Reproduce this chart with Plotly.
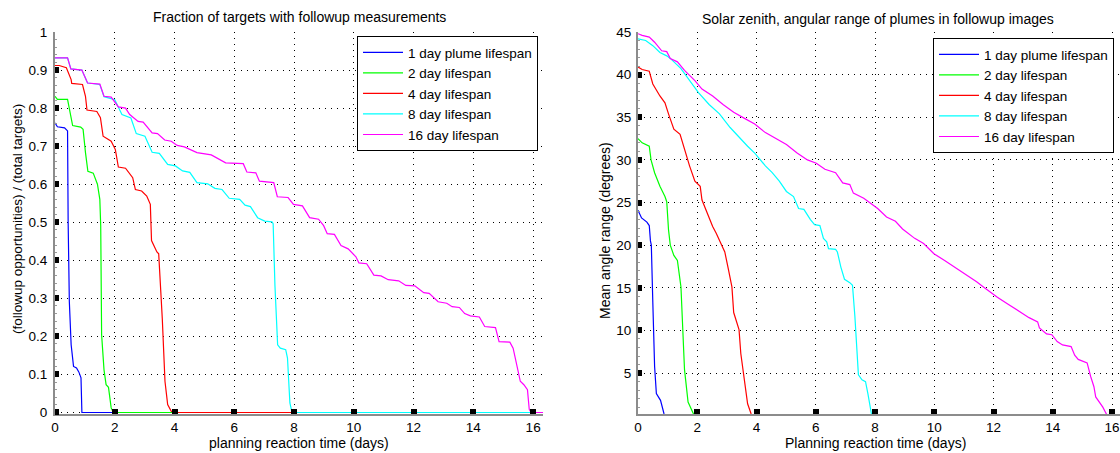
import plotly.graph_objects as go

# ---------------- data: left panel (fraction of targets) ----------------
labels = ["1 day plume lifespan", "2 day lifespan", "4 day lifespan",
          "8 day lifespan", "16 day lifespan"]
colors = ["#0000ff", "#00ff00", "#ff0000", "#00ffff", "#ff00ff"]

frac_t_1 = [0, 0.08, 0.32, 0.42, 0.44, 0.48, 0.54, 0.62, 0.72, 0.80, 0.87, 0.90, 16.33]
frac_v_1 = [0.761, 0.751, 0.748, 0.74, 0.50, 0.291, 0.178, 0.121, 0.117, 0.106, 0.091, 0, 0]

frac_t_2 = [0, 0.08, 0.42, 0.50, 0.59, 0.86, 0.94, 1.02, 1.10, 1.28, 1.42, 1.50, 1.53,
            1.56, 1.64, 1.71, 1.79, 1.88, 1.95, 16.33]
frac_v_2 = [0.831, 0.823, 0.823, 0.788, 0.754, 0.75, 0.744, 0.683, 0.634, 0.629, 0.60,
            0.56, 0.49, 0.204, 0.112, 0.073, 0.066, 0.012, 0, 0]

frac_t_4 = [0, 0.14, 0.38, 0.54, 0.56, 0.92, 1.02, 1.07, 1.40, 1.52, 1.61, 1.88, 2.02,
            2.12, 2.36, 2.60, 2.69, 2.90, 3.07, 3.19, 3.23, 3.41, 3.47, 3.59, 3.68,
            3.77, 3.89, 3.98, 16.33]
frac_v_4 = [0.912, 0.912, 0.906, 0.875, 0.865, 0.862, 0.831, 0.795, 0.791, 0.775,
            0.726, 0.713, 0.691, 0.645, 0.642, 0.617, 0.586, 0.582, 0.569, 0.547,
            0.452, 0.422, 0.417, 0.247, 0.082, 0.021, 0.003, 0, 0]

frac_t_8 = [0, 0.42, 0.53, 0.90, 1.09, 1.50, 1.64, 2.00, 2.24, 2.54, 2.72, 3.01, 3.25,
            3.49, 3.77, 4.03, 4.27, 4.51, 4.75, 5.11, 5.35, 5.59, 5.83, 6.18, 6.36,
            6.54, 6.78, 7.02, 7.26, 7.30, 7.36, 7.45, 7.54, 7.72, 7.78, 7.86, 7.93, 16.33]
frac_v_8 = [0.932, 0.932, 0.903, 0.90, 0.866, 0.862, 0.83, 0.822, 0.783, 0.774, 0.733,
            0.726, 0.684, 0.681, 0.652, 0.648, 0.635, 0.631, 0.604, 0.601, 0.589,
            0.586, 0.563, 0.56, 0.545, 0.541, 0.512, 0.503, 0.501, 0.496, 0.334,
            0.178, 0.169, 0.165, 0.143, 0.025, 0, 0]

frac_t_16 = [0, 0.42, 0.53, 0.90, 1.09, 1.50, 1.64, 1.88, 2.12, 2.36, 2.50, 2.78, 2.95,
             3.25, 3.43, 3.67, 3.89, 4.09, 4.33, 4.75, 5.23, 5.71, 6.30, 6.42, 6.72,
             6.84, 7.32, 7.44, 7.80, 7.98, 8.28, 8.52, 8.82, 8.99, 9.11, 9.35, 9.57,
             9.81, 10.07, 10.17, 10.43, 10.67, 10.91, 11.15, 11.50, 11.74, 12.04,
             12.34, 12.52, 12.82, 13.11, 13.29, 13.53, 13.71, 13.90, 14.20, 14.38,
             14.74, 14.86, 15.22, 15.33, 15.49, 15.57, 15.69, 15.81, 15.87, 15.93, 16.33]
frac_v_16 = [0.932, 0.932, 0.903, 0.90, 0.866, 0.863, 0.831, 0.829, 0.803, 0.80, 0.783,
             0.765, 0.763, 0.735, 0.733, 0.716, 0.713, 0.702, 0.698, 0.683, 0.677,
             0.656, 0.654, 0.632, 0.630, 0.608, 0.604, 0.567, 0.565, 0.547, 0.543,
             0.512, 0.508, 0.491, 0.47, 0.468, 0.439, 0.43, 0.409, 0.393, 0.391,
             0.361, 0.359, 0.349, 0.346, 0.334, 0.333, 0.315, 0.313, 0.291, 0.287,
             0.278, 0.276, 0.26, 0.254, 0.251, 0.226, 0.223, 0.186, 0.185, 0.169,
             0.108, 0.082, 0.073, 0.06, 0.008, 0, 0]

# ---------------- data: right panel (mean angle range, degrees) ----------------
ang_t_1 = [0, 0.12, 0.30, 0.38, 0.42, 0.45, 0.50, 0.56, 0.62, 0.76, 0.88, 0.92]
ang_v_1 = [24.1, 23.2, 22.7, 22.3, 20.5, 20.0, 13.3, 5.8, 2.6, 1.8, 0.2, 0]

ang_t_2 = [0, 0.14, 0.38, 0.44, 0.56, 0.74, 0.91, 0.97, 1.03, 1.09, 1.21, 1.33, 1.45,
           1.51, 1.57, 1.69, 1.80, 1.86, 1.90]
ang_v_2 = [32.5, 32.0, 31.6, 30.0, 28.5, 26.9, 25.7, 25.1, 21.8, 20.0, 18.8, 18.2,
           15.1, 10.1, 5.4, 1.6, 0.8, 0.2, 0]

ang_t_4 = [0, 0.14, 0.38, 0.50, 0.74, 0.91, 1.03, 1.21, 1.42, 1.57, 1.74, 1.92, 2.10,
           2.16, 2.34, 2.52, 2.64, 2.81, 2.93, 3.05, 3.17, 3.23, 3.41, 3.47, 3.58,
           3.70, 3.82, 3.86]
ang_v_4 = [40.9, 40.6, 40.4, 38.9, 37.5, 36.7, 35.4, 33.6, 33.0, 31.2, 29.3, 27.5,
           26.9, 25.3, 23.7, 22.2, 21.4, 20.2, 19.2, 17.2, 15.1, 12.1, 10.1, 7.3,
           4.6, 1.4, 0.2, 0]

ang_t_8 = [0, 0.26, 0.50, 0.74, 0.97, 1.09, 1.45, 1.69, 2.04, 2.40, 2.75, 3.11, 3.47,
           3.70, 3.94, 4.12, 4.30, 4.53, 4.77, 5.01, 5.25, 5.42, 5.60, 5.82, 5.96,
           6.14, 6.26, 6.37, 6.43, 6.67, 6.73, 6.85, 6.97, 7.15, 7.24, 7.32, 7.44,
           7.56, 7.68, 7.76, 7.83, 7.88, 7.92]
ang_v_8 = [44.2, 44.0, 43.4, 42.6, 42.2, 41.9, 40.7, 39.5, 37.9, 36.5, 35.4, 33.8,
           32.4, 31.6, 30.8, 30.0, 29.3, 28.5, 27.5, 26.3, 25.7, 24.3, 24.2, 23.0,
           22.4, 22.3, 20.8, 20.4, 19.6, 19.5, 19.2, 17.4, 16.0, 15.6, 15.3, 11.7,
           4.8, 4.2, 4.0, 2.6, 1.0, 0.2, 0]

ang_t_16 = [0, 0.14, 0.38, 0.56, 0.80, 0.97, 1.09, 1.33, 1.57, 1.92, 2.16, 2.52, 2.87,
            3.23, 3.58, 3.94, 4.30, 4.65, 5.01, 5.37, 5.72, 6.02, 6.31, 6.67, 6.91,
            7.15, 7.27, 7.62, 7.98, 8.09, 8.39, 8.69, 8.93, 9.04, 9.34, 9.64, 9.99,
            10.35, 10.71, 11.06, 11.43, 11.66, 11.89, 12.13, 12.48, 12.72, 12.96,
            13.20, 13.49, 13.55, 13.79, 13.97, 14.15, 14.33, 14.62, 14.74, 14.86,
            15.16, 15.28, 15.39, 15.45, 15.57, 15.69, 15.81, 15.86]
ang_v_16 = [44.8, 44.6, 44.4, 43.8, 42.8, 42.7, 41.9, 41.5, 40.5, 39.3, 38.3, 37.5,
            36.5, 35.6, 34.9, 34.2, 33.2, 32.5, 31.8, 30.8, 30.0, 29.6, 28.9, 28.5,
            27.3, 27.1, 26.1, 25.5, 24.6, 24.3, 23.3, 22.8, 21.9, 21.6, 20.8, 20.2,
            19.0, 18.2, 17.4, 16.6, 15.7, 15.1, 14.5, 13.9, 13.1, 12.6, 12.1, 11.5,
            11.0, 10.3, 9.6, 9.5, 8.7, 8.3, 8.1, 7.1, 6.6, 6.2, 4.6, 3.4, 2.2, 1.6,
            1.0, 0.2, 0]

frac_series = [(frac_t_1, frac_v_1), (frac_t_2, frac_v_2), (frac_t_4, frac_v_4),
               (frac_t_8, frac_v_8), (frac_t_16, frac_v_16)]
ang_series = [(ang_t_1, ang_v_1), (ang_t_2, ang_v_2), (ang_t_4, ang_v_4),
              (ang_t_8, ang_v_8), (ang_t_16, ang_v_16)]

FONT = "Liberation Sans, Arial, Helvetica, sans-serif"
fig = go.Figure()

for (t, v), name, c in zip(frac_series, labels, colors):
    fig.add_trace(go.Scatter(x=t, y=v, mode="lines", name=name,
                             line=dict(color=c, width=1.2),
                             xaxis="x", yaxis="y", legend="legend"))
for (t, v), name, c in zip(ang_series, labels, colors):
    fig.add_trace(go.Scatter(x=t, y=v, mode="lines", name=name,
                             line=dict(color=c, width=1.2),
                             xaxis="x2", yaxis="y2", legend="legend2"))

W, H = 1120, 453
ML, MR, MT, MB = 55, 0, 32, 39
PW = W - ML - MR
PH = H - MT - MB

def px_x(p):
    return (p - ML) / PW

def px_y(p):
    return 1 - (p - MT) / PH

common_axis = dict(
    showline=True, linecolor="#8c8c8c", linewidth=2, mirror=False,
    showgrid=True, gridcolor="#000000", gridwidth=1, griddash="1px,5px",
    zeroline=False, ticks="inside", tickcolor="#000000",
    tickfont=dict(family=FONT, size=13.5, color="#000000"),
)

legend_style = dict(xanchor="right", yanchor="top",
                    bgcolor="white", bordercolor="#000000", borderwidth=1,
                    font=dict(family=FONT, size=13.5, color="#000000"),
                    tracegroupgap=0, itemwidth=40)

fig.update_layout(
    width=W, height=H,
    margin=dict(l=ML, r=MR, t=MT, b=MB, pad=0),
    paper_bgcolor="white", plot_bgcolor="white",
    font=dict(family=FONT, size=14, color="#000000"),
    xaxis=dict(domain=[0, px_x(543)], range=[0, 16.33], dtick=2, tick0=0,
               ticklen=5, tickwidth=6, anchor="y", ticklabelstandoff=0,
               **common_axis),
    yaxis=dict(domain=[0, 1], range=[-0.004, 1], dtick=0.1, tick0=0,
               ticklen=4, tickwidth=6, anchor="x", ticklabelstandoff=3,
               minor=dict(ticks="inside", dtick=0.02, ticklen=2, tickwidth=1,
                          tickcolor="#9a9a9a", showgrid=False),
               **common_axis),
    xaxis2=dict(domain=[px_x(638), 1], range=[0, 16.27], dtick=2, tick0=0,
                ticklen=5, tickwidth=6, anchor="y2", ticklabelstandoff=0,
                **common_axis),
    yaxis2=dict(domain=[0, 1], range=[0.2, 45], dtick=5, tick0=0,
                ticklen=4, tickwidth=6, anchor="x2", ticklabelstandoff=2,
                minor=dict(ticks="inside", dtick=1, ticklen=2, tickwidth=1,
                           tickcolor="#9a9a9a", showgrid=False),
                **common_axis),
    legend=dict(x=px_x(538), y=px_y(36), **legend_style),
    legend2=dict(x=px_x(1114), y=px_y(38), **legend_style),
    showlegend=True,
)

ann = [
    dict(text="Fraction of targets with followup measurements",
         x=px_x(299), y=px_y(17), font=dict(size=14)),
    dict(text="Solar zenith, angular range of plumes in followup images",
         x=px_x(878), y=px_y(19), font=dict(size=14)),
    dict(text="planning reaction time (days)", x=px_x(299), y=px_y(443),
         font=dict(size=14)),
    dict(text="Planning reaction time (days)", x=px_x(875), y=px_y(443),
         font=dict(size=14)),
    dict(text="(followup opportunities) / (total targets)", x=px_x(17), y=px_y(219),
         textangle=-90, font=dict(size=13.5)),
    dict(text="Mean angle range (degrees)", x=px_x(605), y=px_y(231),
         textangle=-90, font=dict(size=14)),
]
for a in ann:
    fig.add_annotation(xref="paper", yref="paper", showarrow=False,
                       xanchor="center", yanchor="middle", **a)

fig.write_html("out.html",
               config={"displayModeBar": False},
               post_script="document.body.style.margin='0';"
                           "document.body.style.overflow='hidden';")
